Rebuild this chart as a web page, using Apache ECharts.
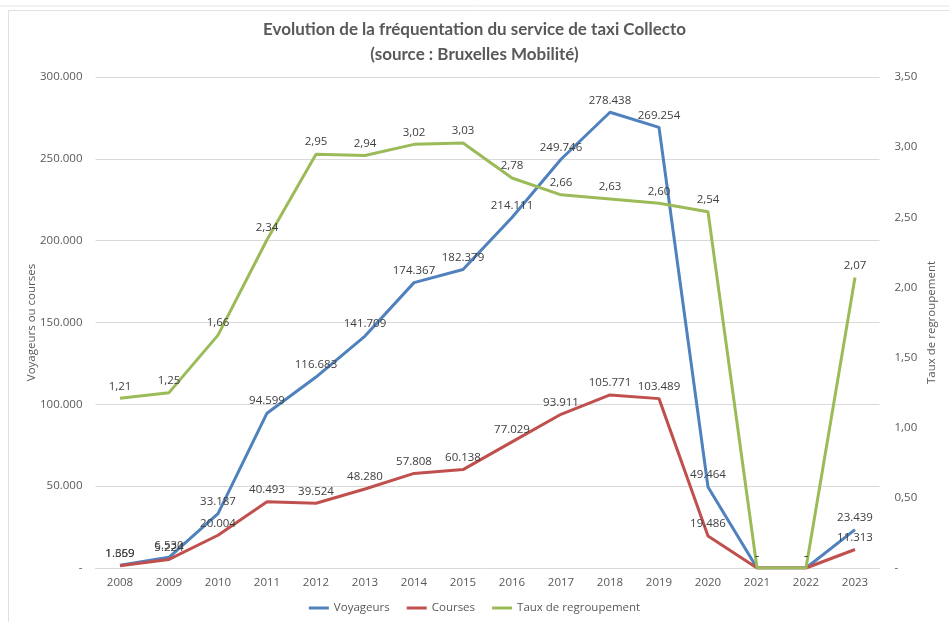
<!DOCTYPE html>
<html>
<head>
<meta charset="utf-8">
<script src="https://cdn.jsdelivr.net/npm/echarts/dist/echarts.min.js"></script>
<style>
html,body{margin:0;padding:0;background:#fff;}
#chart{width:949px;height:622px;}
</style>
</head>
<body>
<div id="chart"></div>
<script>
const years = ['2008','2009','2010','2011','2012','2013','2014','2015','2016','2017','2018','2019','2020','2021','2022','2023'];
const voyageurs = [1659, 6530, 33187, 94599, 116683, 141709, 174367, 182379, 214111, 249746, 278438, 269254, 49464, 0, 0, 23439];
const courses = [1369, 5224, 20004, 40493, 39524, 48280, 57808, 60138, 77029, 93911, 105771, 103489, 19486, 0, 0, 11313];
const taux = [1.21, 1.25, 1.66, 2.34, 2.95, 2.94, 3.02, 3.03, 2.78, 2.66, 2.63, 2.60, 2.54, 0, 0, 2.07];

function fmtInt(v){ return v === 0 ? '-' : String(Math.round(v)).replace(/\B(?=(\d{3})+(?!\d))/g, '.'); }
function fmtDec(v){ return v === 0 ? '-' : v.toFixed(2).replace('.', ','); }

const FONT = '"Open Sans", "Liberation Sans", sans-serif';

function lineSeries(name, data, axis, color, fmt){
  return {
    name: name, type: 'line', data: data, yAxisIndex: axis,
    symbol: 'circle', symbolSize: 0, showSymbol: true,
    lineStyle: {color: color, width: 3},
    itemStyle: {color: color},
    label: {show: true, position: 'top', distance: 6, color: '#404040', fontSize: 11.5, fontFamily: FONT,
            formatter: function(p){ return fmt(p.value); }}
  };
}

const chart = echarts.init(document.getElementById('chart'));
chart.setOption({
  backgroundColor: '#fff',
  animation: false,
  graphic: [
    {type: 'line', shape: {x1: 0, y1: 6, x2: 949, y2: 6}, style: {stroke: '#e6e6e6', lineWidth: 1}, silent: true},
    {type: 'rect', shape: {x: 8.5, y: 10.5, width: 1000, height: 700}, style: {fill: 'none', stroke: '#e0e0e0', lineWidth: 1}, silent: true}
  ],
  title: {
    text: 'Evolution de la fréquentation du service de taxi Collecto\n(source : Bruxelles Mobilité)',
    left: 'center', top: 12,
    textStyle: {fontFamily: 'Lato, "Open Sans", sans-serif', fontWeight: 'bold', fontSize: 17, color: '#595959', lineHeight: 25}
  },
  legend: {
    bottom: 3, left: 'center',
    icon: 'rect', itemWidth: 20, itemHeight: 3, itemGap: 17,
    textStyle: {fontFamily: FONT, fontSize: 11.5, color: '#595959'},
    data: ['Voyageurs', 'Courses', 'Taux de regroupement']
  },
  grid: {left: 95.5, right: 69.5, top: 77, bottom: 54},
  xAxis: {
    type: 'category', data: years, boundaryGap: true,
    axisLine: {lineStyle: {color: '#d9d9d9'}},
    axisTick: {show: false},
    axisLabel: {color: '#595959', fontSize: 11.5, fontFamily: FONT, margin: 9}
  },
  yAxis: [
    {type: 'value', min: 0, max: 300000, interval: 50000,
     name: 'Voyageurs ou courses', nameLocation: 'middle', nameGap: 58, nameMoveOverlap: false,
     nameTextStyle: {color: '#595959', fontSize: 11.5, fontFamily: FONT},
     axisLine: {show: false}, axisTick: {show: false},
     axisLabel: {color: '#595959', fontSize: 11.5, fontFamily: FONT, margin: 13, formatter: fmtInt},
     splitLine: {lineStyle: {color: '#d9d9d9'}}},
    {type: 'value', min: 0, max: 3.5, interval: 0.5,
     name: 'Taux de regroupement', nameLocation: 'middle', nameGap: 46, nameMoveOverlap: false,
     nameTextStyle: {color: '#595959', fontSize: 11.5, fontFamily: FONT},
     axisLine: {show: false}, axisTick: {show: false},
     axisLabel: {color: '#595959', fontSize: 11.5, fontFamily: FONT, margin: 15, formatter: fmtDec},
     splitLine: {show: false}}
  ],
  series: [
    lineSeries('Voyageurs', voyageurs, 0, '#4F81BD', fmtInt),
    lineSeries('Courses', courses, 0, '#C0504D', fmtInt),
    lineSeries('Taux de regroupement', taux, 1, '#9BBB59', fmtDec)
  ]
});
</script>
</body>
</html>
